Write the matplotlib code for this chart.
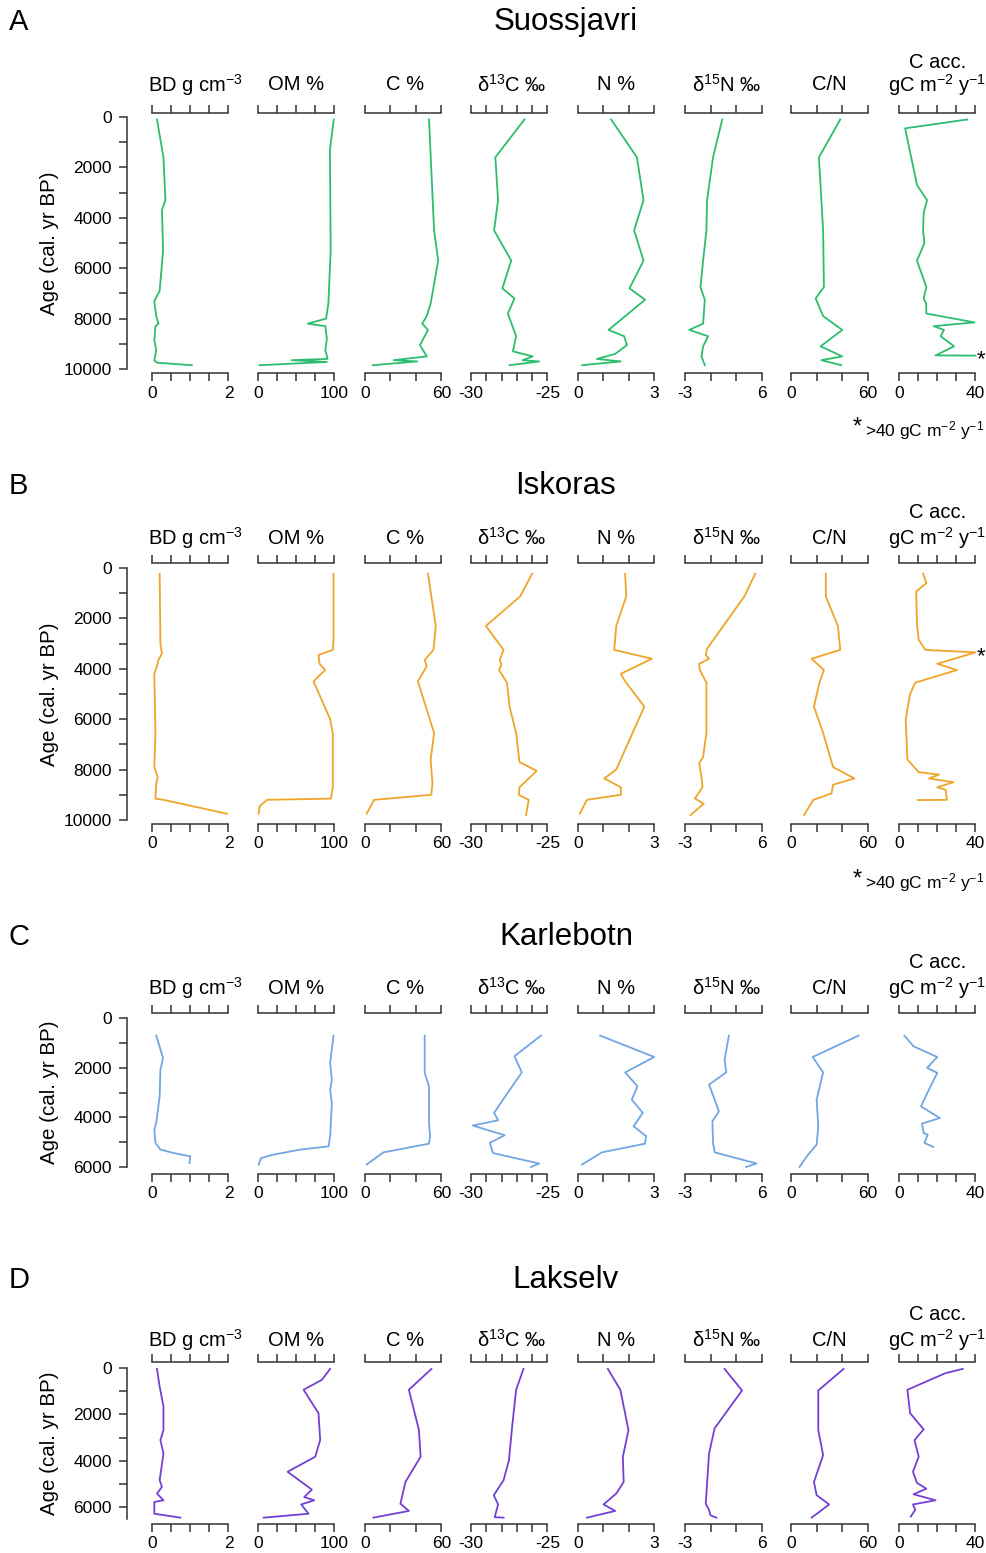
import numpy as np
import matplotlib
matplotlib.use("Agg")
import matplotlib.pyplot as plt

plt.rcParams['font.family'] = ['Liberation Sans', 'DejaVu Sans']
plt.rcParams['mathtext.fontset'] = 'custom'
plt.rcParams['mathtext.rm'] = 'Liberation Sans'
plt.rcParams['mathtext.it'] = 'Liberation Sans:italic'
plt.rcParams['mathtext.bf'] = 'Liberation Sans:bold'

# --- Suossjavri ---
suo_bd_age = [100, 1600, 3300, 3700, 5300, 6900, 7300, 7900, 8200, 8300, 8850, 9250, 9650, 9750, 9850]
suo_bd = [0.13, 0.30, 0.35, 0.26, 0.29, 0.20, 0.06, 0.11, 0.17, 0.09, 0.06, 0.11, 0.06, 0.13, 1.04]
suo_om_age = [100, 1300, 5300, 7400, 8000, 8200, 8300, 8800, 9250, 9600, 9650, 9720, 9850]
suo_om = [99, 94, 95, 92, 89, 65, 88, 90, 88, 91, 44, 90, 2]
suo_c_age = [100, 4500, 5700, 7400, 7900, 8200, 8450, 9050, 9500, 9650, 9700, 9850]
suo_c = [50.2, 54.2, 57.4, 51.5, 48.4, 44.9, 49.4, 43.1, 48.4, 22.5, 41.0, 6.1]
suo_d13c_age = [100, 1600, 3300, 4500, 5700, 6800, 7200, 7800, 8700, 9300, 9500, 9650, 9700, 9850]
suo_d13c = [-26.51, -28.41, -28.23, -28.49, -27.37, -27.95, -27.16, -27.59, -27.05, -27.26, -25.97, -26.62, -25.54, -27.48]
suo_n_age = [100, 1600, 3300, 4500, 5700, 6800, 7250, 8450, 8700, 9050, 9400, 9600, 9700, 9850]
suo_n = [1.30, 2.31, 2.57, 2.20, 2.57, 2.02, 2.63, 1.20, 1.81, 1.92, 1.46, 0.74, 1.68, 0.16]
suo_d15n_age = [100, 1600, 3300, 4500, 5700, 6750, 7250, 8200, 8450, 8700, 9100, 9500, 9850]
suo_d15n = [1.38, 0.30, -0.40, -0.48, -0.87, -1.18, -0.67, -0.87, -2.50, -0.28, -0.87, -1.06, -0.67]
suo_cn_age = [100, 1600, 4500, 6750, 7200, 7900, 8450, 9100, 9500, 9650, 9850]
suo_cn = [38.6, 21.9, 25.2, 25.8, 19.3, 25.2, 40.2, 23.2, 40.2, 23.9, 39.4]
suo_cacc_age = [100, 450, 2700, 3300, 3800, 4500, 5000, 5700, 6750, 7200, 7400, 7800, 8150, 8300, 8450, 8700, 9100, 9460, 9470]
suo_cacc = [35.6, 3.2, 9.4, 14.7, 12.9, 12.6, 13.3, 9.4, 14.3, 12.9, 14.2, 14.3, 39.5, 18.2, 23.5, 21.8, 28.8, 19.1, 40.0]

# --- Iskoras ---
isk_bd_age = [230, 3000, 3400, 3650, 3900, 4200, 6550, 7900, 8300, 8550, 9150, 9200, 9750]
isk_bd = [0.20, 0.22, 0.26, 0.17, 0.13, 0.06, 0.09, 0.06, 0.15, 0.11, 0.09, 0.30, 1.96]
isk_om_age = [230, 2850, 3250, 3450, 3800, 4050, 4300, 4500, 6000, 6550, 8700, 9150, 9200, 9450, 9750]
isk_om = [98.7, 98.7, 97.8, 79.1, 80.4, 87.8, 79.1, 72.6, 94.3, 97.8, 97.8, 95.2, 11.7, 2.2, 0.9]
isk_c_age = [230, 2300, 3250, 3650, 3900, 4500, 6550, 7600, 8550, 9000, 9200, 9750]
isk_c = [49.4, 55.5, 53.7, 46.8, 48.4, 41.5, 54.2, 51.5, 52.9, 52.0, 7.1, 1.3]
isk_d13c_age = [230, 1130, 2300, 3250, 3650, 3850, 4050, 4550, 5500, 6550, 7700, 8050, 8700, 9000, 9200, 9800]
isk_d13c = [-26.01, -26.79, -29.03, -27.87, -28.12, -28.02, -28.17, -27.65, -27.48, -27.05, -26.83, -25.71, -26.83, -26.88, -26.23, -26.40]
isk_n_age = [230, 1130, 2300, 3250, 3600, 4200, 4500, 5500, 8000, 8350, 8700, 9000, 9200, 9750]
isk_n = [1.85, 1.89, 1.50, 1.42, 2.90, 1.68, 1.85, 2.60, 1.50, 1.03, 1.68, 1.68, 0.35, 0.07]
isk_d15n_age = [230, 1130, 3200, 3450, 3600, 3800, 4050, 4550, 6550, 7500, 7750, 8300, 8700, 9150, 9350, 9800]
isk_d15n = [5.26, 3.98, -0.40, -0.56, -0.17, -1.33, -1.25, -0.48, -0.48, -0.87, -1.33, -1.06, -0.94, -1.84, -0.79, -2.34]
isk_cn_age = [230, 1130, 2300, 3250, 3600, 4050, 4550, 5500, 6550, 7900, 8350, 8600, 8950, 9200, 9800]
isk_cn = [27.3, 27.3, 36.8, 38.6, 16.2, 25.8, 22.3, 18.0, 25.2, 33.0, 49.7, 33.0, 31.7, 17.5, 10.3]
isk_cacc_age = [230, 600, 930, 2200, 2850, 3250, 3350, 3800, 4050, 4550, 5000, 5500, 6050, 7600,
                8100, 8200, 8350, 8500, 8700, 8800, 9200, 9210]
isk_cacc = [12.6, 14.3, 9.0, 9.4, 10.3, 13.8, 40.0, 20.0, 30.3, 8.5, 5.8, 4.6, 3.5, 4.4,
            10.3, 20.9, 15.6, 28.5, 20.0, 24.4, 25.0, 9.7]

# --- Karlebotn ---
kar_bd_age = [710, 1610, 2080, 3150, 4230, 4500, 5030, 5300, 5440, 5570, 5840]
kar_bd = [0.11, 0.29, 0.22, 0.20, 0.11, 0.06, 0.09, 0.22, 0.57, 1.00, 0.98]
kar_om_age = [710, 1810, 2480, 2890, 3420, 4760, 5170, 5300, 5500, 5640, 5900]
kar_om = [98.7, 94.3, 96.5, 94.3, 96.5, 94.3, 92.2, 55.2, 20.4, 3.9, 0.9]
kar_c_age = [710, 2210, 2750, 4230, 4760, 5060, 5410, 5900]
kar_c = [46.8, 46.8, 50.2, 50.2, 51.0, 50.2, 14.5, 1.3]
kar_d13c_age = [710, 1540, 2190, 3290, 3820, 4120, 4330, 4720, 5030, 5440, 5860, 6000]
kar_d13c = [-25.43, -27.16, -26.68, -27.91, -28.49, -28.23, -29.89, -27.80, -28.77, -28.56, -25.54, -26.08]
kar_n_age = [710, 1570, 2190, 2750, 3290, 3820, 4360, 4760, 5060, 5410, 5900]
kar_n = [0.87, 2.99, 1.85, 2.33, 2.11, 2.54, 2.18, 2.67, 2.63, 0.94, 0.16]
kar_d15n_age = [710, 1680, 2190, 2680, 3760, 4160, 5030, 5410, 5860, 6000]
kar_d15n = [2.16, 1.66, 1.85, -0.17, 0.99, 0.22, 0.30, 0.49, 5.42, 4.18]
kar_cn_age = [710, 1570, 2190, 3290, 4360, 5100, 5570, 6000]
kar_cn = [53.0, 17.0, 25.2, 20.1, 21.4, 20.1, 12.4, 6.7]
kar_cacc_age = [710, 1140, 1570, 2010, 2210, 2890, 3560, 4030, 4250, 4630, 4700, 5030, 5190]
kar_cacc = [2.8, 7.6, 20.0, 14.7, 20.0, 15.6, 11.5, 21.4, 12.0, 12.9, 15.0, 13.3, 17.9]

# --- Lakselv ---
lak_bd_age = [40, 800, 1660, 2680, 3110, 3690, 4840, 5130, 5420, 5710, 5780, 6290, 6460]
lak_bd = [0.13, 0.20, 0.30, 0.30, 0.22, 0.30, 0.20, 0.26, 0.13, 0.30, 0.06, 0.06, 0.74]
lak_om_age = [40, 510, 940, 1950, 3110, 3830, 4480, 5250, 5570, 5710, 5890, 6290, 6460]
lak_om = [94.3, 83.5, 59.6, 79.1, 81.3, 74.8, 38.7, 70.4, 60.4, 73.5, 56.5, 66.1, 7.4]
lak_c_age = [40, 940, 2680, 3830, 4920, 5860, 6170, 6460]
lak_c = [52.1, 34.4, 42.3, 43.6, 31.7, 27.8, 34.4, 6.6]
lak_d13c_age = [40, 940, 2530, 3980, 4840, 5490, 5890, 6440, 6460]
lak_d13c = [-26.57, -27.05, -27.31, -27.52, -27.87, -28.51, -28.23, -28.45, -27.87]
lak_n_age = [40, 940, 2680, 3830, 4920, 5420, 5890, 6170, 6460]
lak_n = [1.17, 1.66, 1.98, 1.76, 1.79, 1.50, 1.00, 1.46, 0.35]
lak_d15n_age = [40, 970, 2600, 3690, 5860, 6120, 6360, 6460]
lak_d15n = [1.66, 3.71, 0.49, -0.17, -0.56, -0.17, -0.01, 0.69]
lak_cn_age = [40, 970, 2680, 3760, 4920, 5490, 5890, 6460]
lak_cn = [41.2, 21.4, 21.4, 25.2, 18.0, 20.1, 29.9, 16.2]
lak_cacc_age = [40, 220, 940, 1950, 2650, 3110, 3830, 4480, 4960, 5210, 5450, 5710, 5890, 6120, 6410]
lak_cacc = [33.3, 24.4, 4.4, 5.8, 12.9, 8.1, 10.3, 7.3, 9.4, 14.3, 7.6, 19.1, 7.3, 8.5, 6.2]

# --- columns ---
headers = ['BD g cm$^{-3}$', 'OM %', 'C %', 'δ$^{13}$C ‰', 'N %', 'δ$^{15}$N ‰', 'C/N', 'gC m$^{-2}$ y$^{-1}$']
xlims = [(0, 2), (0, 100), (0, 60), (-30, -25), (0, 3), (-3, 6), (0, 60), (0, 40)]
xticks = [[0, 0.5, 1, 1.5, 2], [0, 25, 50, 75, 100], [0, 20, 40, 60], [-30, -29, -28, -27, -26, -25],
          [0, 1, 2, 3], [-3, 0, 3, 6], [0, 20, 40, 60], [0, 10, 20, 30, 40]]
end_labels = [('0', '2'), ('0', '100'), ('0', '60'), ('-30', '-25'), ('0', '3'), ('-3', '6'), ('0', '60'), ('0', '40')]

sites = ['Suossjavri', 'Iskoras', 'Karlebotn', 'Lakselv']
letters = ['A', 'B', 'C', 'D']
colors = ['#2dbd6e', '#eea52a', '#72a6e2', '#7440d4']
site_data = [
    [(suo_bd_age, suo_bd), (suo_om_age, suo_om), (suo_c_age, suo_c), (suo_d13c_age, suo_d13c),
     (suo_n_age, suo_n), (suo_d15n_age, suo_d15n), (suo_cn_age, suo_cn), (suo_cacc_age, suo_cacc)],
    [(isk_bd_age, isk_bd), (isk_om_age, isk_om), (isk_c_age, isk_c), (isk_d13c_age, isk_d13c),
     (isk_n_age, isk_n), (isk_d15n_age, isk_d15n), (isk_cn_age, isk_cn), (isk_cacc_age, isk_cacc)],
    [(kar_bd_age, kar_bd), (kar_om_age, kar_om), (kar_c_age, kar_c), (kar_d13c_age, kar_d13c),
     (kar_n_age, kar_n), (kar_d15n_age, kar_d15n), (kar_cn_age, kar_cn), (kar_cacc_age, kar_cacc)],
    [(lak_bd_age, lak_bd), (lak_om_age, lak_om), (lak_c_age, lak_c), (lak_d13c_age, lak_d13c),
     (lak_n_age, lak_n), (lak_d15n_age, lak_d15n), (lak_cn_age, lak_cn), (lak_cacc_age, lak_cacc)],
]
age_max = [10000, 10000, 6000, 6500]
age_tick_max = [10000, 10000, 6000, 6000]
# ages where C acc. goes off scale (>40)
asterisk_age = [9470, 3350, None, None]

# --- layout (pixels) ---
W, H = 987, 1553
lefts = [152, 258, 365, 471, 578, 685, 791, 899]
head_shift = [5, 0, 2, 2, 0, 3, 0, 0]
AXW = 76.5
# top line, bottom line, y of age 0, y of reference age, reference age
panel_px = [(113, 373, 117, 369, 10000),
            (563, 824, 568, 820, 10000),
            (1013, 1174, 1018, 1167, 6000),
            (1362, 1524, 1368, 1507, 6000)]
title_y = [22, 486, 937, 1280]
head_y = [85, 538, 988, 1340]
head2_y = [62, 513, 963, 1315]
foot_y = [431, 883, None, None]

SPINE = '#333333'
fig = plt.figure(figsize=(W / 100, H / 100), dpi=100)


def fx(px):
    return px / W


def fy(px):
    return 1 - px / H


for p in range(4):
    top, bot, y0, yr, ref = panel_px[p]
    per = ref / (yr - y0)
    ylo = -(y0 - top) * per
    yhi = ref + (bot - yr) * per
    col = colors[p]

    fig.text(fx(9), fy(title_y[p]), letters[p], fontsize=21, ha='left', va='center')
    fig.text(fx(566), fy(title_y[p]), sites[p], fontsize=22.5, ha='center', va='center')

    for i in range(8):
        ax = fig.add_axes([fx(lefts[i]), fy(bot), AXW / W, (bot - top) / H])
        ages, vals = site_data[p][i]
        ax.plot(vals, ages, color=col, lw=1.3, clip_on=False)
        ax.set_xlim(*xlims[i])
        ax.set_ylim(yhi, ylo)
        ax.patch.set_visible(False)
        for s in ['left', 'right']:
            ax.spines[s].set_visible(False)
        for s in ['top', 'bottom']:
            ax.spines[s].set_color(SPINE)
            ax.spines[s].set_linewidth(1.1)
        ax.set_xticks(xticks[i])
        labs = [''] * len(xticks[i])
        labs[0], labs[-1] = end_labels[i]
        ax.set_xticklabels(labs)
        ax.tick_params(axis='x', which='both', top=True, bottom=True, labeltop=False,
                       direction='out', length=6, width=1.1, color=SPINE,
                       labelsize=12.5, pad=3)
        ax.tick_params(axis='y', left=False, labelleft=False)

        cx = fx(lefts[i] + AXW / 2 + head_shift[i])
        fig.text(cx, fy(head_y[p]), headers[i], fontsize=14.5, ha='center', va='center')
        if i == 7:
            fig.text(cx, fy(head2_y[p]), 'C acc.', fontsize=14.5, ha='center', va='center')
            if asterisk_age[p] is not None:
                ax.annotate('*', xy=(xlims[i][1], asterisk_age[p]), xytext=(1, -3),
                            textcoords='offset points', fontsize=16, ha='left', va='center',
                            annotation_clip=False)

        if i == 0:
            sp = ax.spines['left']
            sp.set_visible(True)
            sp.set_color(SPINE)
            sp.set_linewidth(1.1)
            sp.set_position(('outward', 18))
            sp.set_bounds(0, age_max[p])
            yt = list(range(0, age_tick_max[p] + 1, 1000))
            ax.set_yticks(yt)
            ax.set_yticklabels([str(v) if v % 2000 == 0 else '' for v in yt])
            ax.tick_params(axis='y', left=True, labelleft=True, direction='out',
                           length=6, width=1.1, color=SPINE, labelsize=12.5, pad=5)
            ax.set_ylim(yhi, ylo)

    mid = (y0 + y0 + age_max[p] / per) / 2
    fig.text(fx(50), fy(mid), 'Age (cal. yr BP)', rotation=90, fontsize=14.8,
             ha='center', va='center')

    if foot_y[p] is not None:
        fig.text(fx(984), fy(foot_y[p]), '>40 gC m$^{-2}$ y$^{-1}$', fontsize=12.5,
                 ha='right', va='center')
        fig.text(fx(857), fy(foot_y[p] - 3), '*', fontsize=17, ha='center', va='center')

fig.savefig('out.png', dpi=100)
